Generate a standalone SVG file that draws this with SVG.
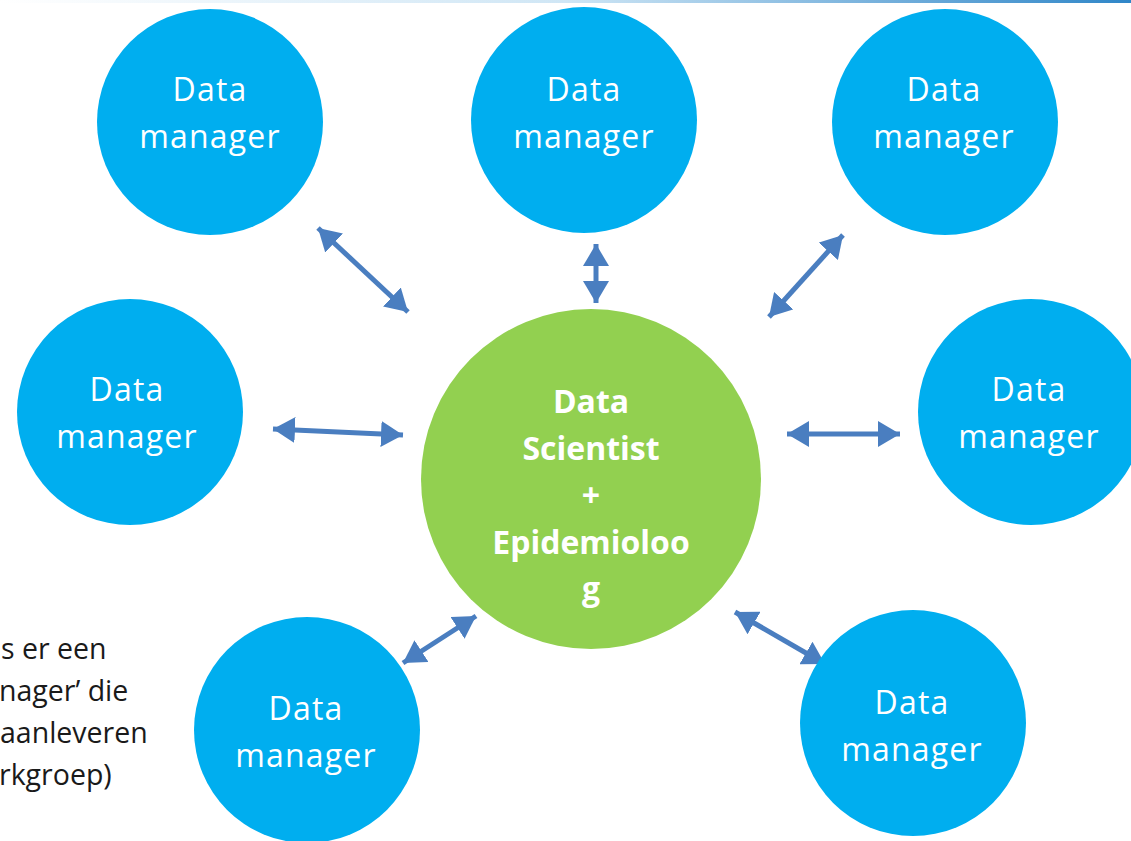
<svg xmlns="http://www.w3.org/2000/svg" width="1131" height="841" viewBox="0 0 1131 841">
<style>
.mgr{fill:#00AEEF}
.sci{fill:#92D050}
.lbl{font-family:"Open Sans","Noto Sans",sans-serif;font-size:32px;fill:#fff;text-anchor:middle;letter-spacing:1.2px}
.bold{font-weight:bold;letter-spacing:0}
.note{font-family:"Open Sans","Noto Sans",sans-serif;font-size:28.5px;fill:#1a1a1a}
.arr{stroke:#4A7EC0;stroke-width:5;fill:none;marker-start:url(#head);marker-end:url(#head)}
</style>
<defs>
<linearGradient id="strip" x1="0" y1="0" x2="1" y2="0">
<stop offset="0" stop-color="#ffffff"/>
<stop offset="0.5" stop-color="#cfe6f5"/>
<stop offset="1" stop-color="#2f86c8"/>
</linearGradient>
<marker id="head" viewBox="0 0 22 26" refX="22" refY="13" markerWidth="22" markerHeight="26" markerUnits="userSpaceOnUse" orient="auto-start-reverse">
<path d="M0,0 L22,13 L0,26 Z" fill="#4A7EC0"/>
</marker>
</defs>
<rect width="1131" height="841" fill="#fff"/>
<rect x="0" y="0" width="1131" height="3" fill="url(#strip)"/>
<g id="connectors">
<path class="arr" d="M318,228 L408,312"/>
<path class="arr" d="M596,244 L596,303"/>
<path class="arr" d="M843,235 L769,317"/>
<path class="arr" d="M273,429 L403,435"/>
<path class="arr" d="M787,434 L900,434"/>
<path class="arr" d="M403,663 L476,616"/>
<path class="arr" d="M735,612 L825,664"/>
</g>
<g id="dm-top-left"><circle class="mgr" cx="210" cy="122" r="113"/><text class="lbl" x="210" y="101">Data</text><text class="lbl" x="210" y="148">manager</text></g>
<g id="dm-top-mid"><circle class="mgr" cx="584" cy="120" r="113"/><text class="lbl" x="584" y="101">Data</text><text class="lbl" x="584" y="148">manager</text></g>
<g id="dm-top-right"><circle class="mgr" cx="945" cy="122" r="113"/><text class="lbl" x="944" y="101">Data</text><text class="lbl" x="944" y="148">manager</text></g>
<g id="dm-left"><circle class="mgr" cx="130" cy="412" r="113"/><text class="lbl" x="127" y="401">Data</text><text class="lbl" x="127" y="448">manager</text></g>
<g id="dm-right"><circle class="mgr" cx="1031" cy="412" r="113"/><text class="lbl" x="1029" y="401">Data</text><text class="lbl" x="1029" y="448">manager</text></g>
<g id="dm-bottom-left"><circle class="mgr" cx="307" cy="730" r="113"/><text class="lbl" x="306" y="720">Data</text><text class="lbl" x="306" y="767">manager</text></g>
<g id="dm-bottom-right"><circle class="mgr" cx="913" cy="723" r="113"/><text class="lbl" x="912" y="714">Data</text><text class="lbl" x="912" y="761">manager</text></g>
<g id="scientist"><circle class="sci" cx="591" cy="479" r="170"/>
<text class="lbl bold" x="591" y="413">Data</text>
<text class="lbl bold" x="591" y="460">Scientist</text>
<text class="lbl bold" x="591" y="507">+</text>
<text class="lbl bold" x="591" y="554">Epidemioloo</text>
<text class="lbl bold" x="591" y="600">g</text>
</g>
<g id="note">
<text class="note" x="1" y="659">s er een</text>
<text class="note" x="-1" y="701">nager’ die</text>
<text class="note" x="0" y="743">aanleveren</text>
<text class="note" x="-1" y="785">rkgroep)</text>
</g>
</svg>
